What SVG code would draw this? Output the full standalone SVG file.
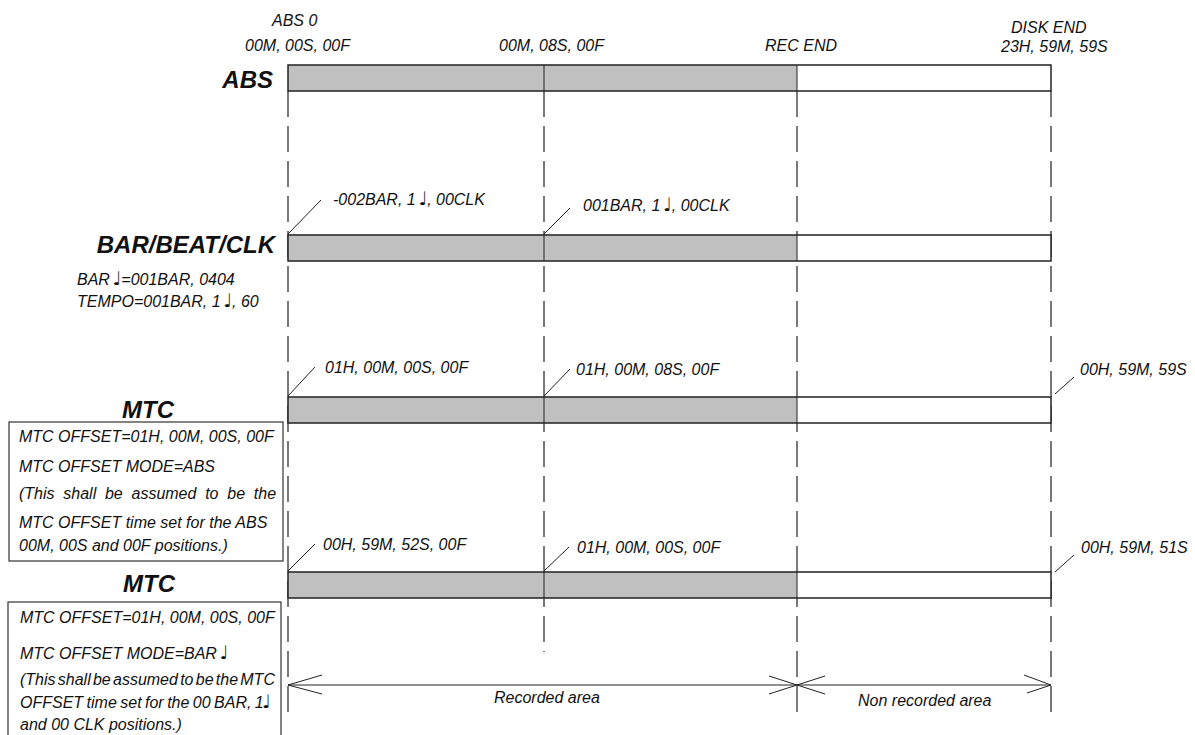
<svg xmlns="http://www.w3.org/2000/svg" width="1195" height="735" viewBox="0 0 1195 735">
<style>
.t{font-family:"Liberation Sans","DejaVu Sans",sans-serif;font-style:italic;font-size:16px;fill:#111}
.n{font-family:"DejaVu Sans",sans-serif;font-style:normal;font-size:19px}
.h{font-family:"Liberation Sans","DejaVu Sans",sans-serif;font-style:italic;font-weight:bold;font-size:24px;fill:#111}
.g{fill:#c0c0c0;stroke:none}
.w{fill:#fff;stroke:none}
.o{fill:none;stroke:#222;stroke-width:1.5}
.m{stroke:#222;stroke-width:1}
.d{stroke:#222;stroke-width:1.2;stroke-dasharray:26 9;fill:none}
.dg{stroke:#777;stroke-width:2;stroke-dasharray:26 9;fill:none}
.ln{stroke:#222;stroke-width:1;fill:none}
.box{fill:#fff;stroke:#333;stroke-width:1.2}
</style>
<rect width="1195" height="735" fill="#fff"/>
<g id="connectors">
  <line class="d" x1="288" y1="91" x2="288" y2="714"/>
  <line class="d" x1="544" y1="91" x2="544" y2="652"/>
  <line class="d" x1="797" y1="91" x2="797" y2="720"/>
  <line class="dg" x1="1051" y1="91" x2="1051" y2="720"/>
  <line class="ln" x1="288" y1="234" x2="321" y2="200"/>
  <line class="ln" x1="544" y1="234" x2="570" y2="208"/>
  <line class="ln" x1="288" y1="396" x2="315" y2="367"/>
  <line class="ln" x1="544" y1="396" x2="570" y2="369"/>
  <line class="ln" x1="1055" y1="394" x2="1074" y2="377"/>
  <line class="ln" x1="288" y1="571" x2="315" y2="544"/>
  <line class="ln" x1="544" y1="571" x2="569" y2="547"/>
  <line class="ln" x1="1055" y1="572" x2="1074" y2="555"/>
  <line class="ln" x1="288" y1="685" x2="1051" y2="685"/>
  <polyline class="ln" points="322,675 288,685 322,694"/>
  <polyline class="ln" points="769,676 797,685 769,694"/>
  <polyline class="ln" points="825,676 797,685 825,694"/>
  <polyline class="ln" points="1024,675 1051,685 1027,693"/>
</g>
<g id="top-labels">
  <text class="t" x="272" y="26">ABS 0</text>
  <text class="t" x="245" y="51">00M, 00S, 00F</text>
  <text class="t" x="499" y="51">00M, 08S, 00F</text>
  <text class="t" x="765" y="51">REC END</text>
  <text class="t" x="1011" y="33">DISK END</text>
  <text class="t" x="1001" y="52">23H, 59M, 59S</text>
</g>
<g id="abs">
  <text class="h" x="273" y="88" text-anchor="end">ABS</text>
  <rect class="g" x="288" y="65" width="509" height="26"/>
  <rect class="w" x="797" y="65" width="254" height="26"/>
  <line class="m" x1="544" y1="65" x2="544" y2="91"/>
  <line class="m" x1="797" y1="65" x2="797" y2="91"/>
  <rect class="o" x="288" y="65" width="763" height="26"/>
</g>
<g id="barbeatclk">
  <text class="h" x="275" y="253" text-anchor="end">BAR/BEAT/CLK</text>
  <rect class="g" x="288" y="235" width="509" height="26"/>
  <rect class="w" x="797" y="235" width="254" height="26"/>
  <line class="m" x1="544" y1="235" x2="544" y2="261"/>
  <line class="m" x1="797" y1="235" x2="797" y2="261"/>
  <rect class="o" x="288" y="235" width="763" height="26"/>
  <text class="t" x="333" y="205">-002BAR, 1 <tspan class="n" dx="-2">♩</tspan><tspan dx="0">, 00CLK</tspan></text>
  <text class="t" x="583" y="211">001BAR, 1 <tspan class="n" dx="-2">♩</tspan><tspan dx="0">, 00CLK</tspan></text>
  <text class="t" x="77" y="285">BAR <tspan class="n" dx="-2">♩</tspan><tspan dx="0">=001BAR, 0404</tspan></text>
  <text class="t" x="77" y="307">TEMPO=001BAR, 1 <tspan class="n" dx="-2">♩</tspan><tspan dx="0">, 60</tspan></text>
</g>
<g id="mtc-abs">
  <text class="h" x="148" y="418" text-anchor="middle">MTC</text>
  <rect class="g" x="288" y="397" width="509" height="26"/>
  <rect class="w" x="797" y="397" width="254" height="26"/>
  <line class="m" x1="544" y1="397" x2="544" y2="423"/>
  <line class="m" x1="797" y1="397" x2="797" y2="423"/>
  <rect class="o" x="288" y="397" width="763" height="26"/>
  <text class="t" x="325" y="373">01H, 00M, 00S, 00F</text>
  <text class="t" x="576" y="375">01H, 00M, 08S, 00F</text>
  <text class="t" x="1080" y="375">00H, 59M, 59S</text>
  <rect class="box" x="9" y="422" width="274" height="139"/>
  <text class="t" x="19" y="442">MTC OFFSET=01H, 00M, 00S, 00F</text>
  <text class="t" x="19" y="472">MTC OFFSET MODE=ABS</text>
  <text class="t" x="19" y="499" word-spacing="4.3">(This shall be assumed to be the</text>
  <text class="t" x="19" y="528">MTC OFFSET time set for the ABS</text>
  <text class="t" x="19" y="551">00M, 00S and 00F positions.)</text>
</g>
<g id="mtc-bar">
  <text class="h" x="149" y="592" text-anchor="middle">MTC</text>
  <rect class="g" x="288" y="572" width="509" height="26"/>
  <rect class="w" x="797" y="572" width="254" height="26"/>
  <line class="m" x1="544" y1="572" x2="544" y2="598"/>
  <line class="m" x1="797" y1="572" x2="797" y2="598"/>
  <rect class="o" x="288" y="572" width="763" height="26"/>
  <text class="t" x="323" y="550">00H, 59M, 52S, 00F</text>
  <text class="t" x="577" y="553">01H, 00M, 00S, 00F</text>
  <text class="t" x="1081" y="553">00H, 59M, 51S</text>
  <rect class="box" x="8" y="602" width="273" height="145"/>
  <text class="t" x="20" y="623">MTC OFFSET=01H, 00M, 00S, 00F</text>
  <text class="t" x="20" y="659">MTC OFFSET MODE=BAR <tspan class="n" dx="-2">♩</tspan></text>
  <text class="t" x="20" y="685" word-spacing="-2.2">(This shall be assumed to be the MTC</text>
  <text class="t" x="20" y="708" word-spacing="-1">OFFSET time set for the 00 BAR, 1<tspan class="n" dx="-2">♩</tspan></text>
  <text class="t" x="20" y="730">and 00 CLK positions.)</text>
</g>
<g id="areas">
  <text class="t" x="494" y="703">Recorded area</text>
  <text class="t" x="858" y="706">Non recorded area</text>
</g>
</svg>
